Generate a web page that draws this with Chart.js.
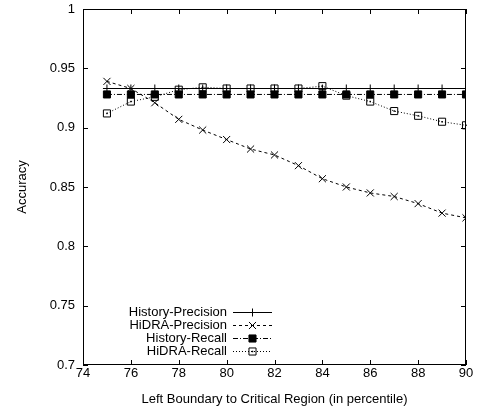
<!DOCTYPE html>
<html>
<head>
<meta charset="utf-8">
<script src="https://cdn.jsdelivr.net/npm/chart.js@4"></script>
<style>
  html, body { margin: 0; padding: 0; background: #fff; }
  #wrap { width: 478px; height: 410px; }
</style>
</head>
<body>
<div id="wrap"><canvas id="accChart" width="478" height="410"></canvas></div>
<script>
// left boundary of the critical region (percentile)
const boundaries = [75, 76, 77, 78, 79, 80, 81, 82, 83, 84, 85, 86, 87, 88, 89, 90];

const historyPrecision = [0.933, 0.933, 0.933, 0.933, 0.933, 0.933, 0.933, 0.933, 0.933, 0.933, 0.933, 0.933, 0.933, 0.933, 0.933, 0.933];
const hidraPrecision   = [0.939, 0.933, 0.921, 0.907, 0.898, 0.890, 0.882, 0.877, 0.868, 0.857, 0.850, 0.845, 0.842, 0.836, 0.828, 0.824];
const historyRecall    = [0.928, 0.928, 0.928, 0.928, 0.928, 0.928, 0.928, 0.928, 0.928, 0.928, 0.928, 0.928, 0.928, 0.928, 0.928, 0.928];
const hidraRecall      = [0.912, 0.922, 0.926, 0.932, 0.934, 0.933, 0.933, 0.933, 0.933, 0.935, 0.927, 0.922, 0.914, 0.910, 0.905, 0.902];

const xTicks = [74, 76, 78, 80, 82, 84, 86, 88, 90];
const yTicks = [0.7, 0.75, 0.8, 0.85, 0.9, 0.95, 1];
const xTickLabels = ['74', '76', '78', '80', '82', '84', '86', '88', '90'];
const yTickLabels = ['0.7', '0.75', '0.8', '0.85', '0.9', '0.95', '1'];

const FONT = { family: "'Liberation Sans', Arial, Helvetica, sans-serif", size: 13 };
const INK = '#000';

function toPoints(values) {
    return boundaries.map((b, i) => ({ x: b, y: values[i] }));
}

const series = [
    { label: 'History-Precision', data: historyPrecision, dash: [],           pointStyle: 'cross',    radius: 4, fill: INK },
    { label: 'HiDRA-Precision',   data: hidraPrecision,   dash: [3, 3],       pointStyle: 'crossRot', radius: 5, fill: INK },
    { label: 'History-Recall',    data: historyRecall,    dash: [5, 2, 1, 2], pointStyle: 'rect',     radius: 5, fill: INK },
    { label: 'HiDRA-Recall',      data: hidraRecall,      dash: [1, 2],       pointStyle: 'rect',     radius: 5, fill: 'rgba(0,0,0,0)', dot: true }
];

// gnuplot-style frame: full box, inward ticks on every side, tick labels outside
const framePlugin = {
    id: 'frame',
    afterDatasetsDraw(chart) {
        const ctx = chart.ctx;
        const { left, top, right, bottom } = chart.chartArea;
        const xs = chart.scales.x, ys = chart.scales.y;
        const tick = 5;
        ctx.save();
        ctx.strokeStyle = INK;
        ctx.lineWidth = 1;
        ctx.setLineDash([]);
        ctx.strokeRect(left + 0.5, top + 0.5, right - left - 1, bottom - top - 1);
        ctx.beginPath();
        xTicks.forEach(v => {
            const px = Math.round(xs.getPixelForValue(v)) + 0.5;
            ctx.moveTo(px, bottom); ctx.lineTo(px, bottom - tick);
            ctx.moveTo(px, top);    ctx.lineTo(px, top + tick);
        });
        yTicks.forEach(v => {
            const py = Math.round(ys.getPixelForValue(v)) + 0.5;
            ctx.moveTo(left, py);  ctx.lineTo(left + tick, py);
            ctx.moveTo(right, py); ctx.lineTo(right - tick, py);
        });
        ctx.stroke();

        ctx.fillStyle = INK;
        ctx.font = `${FONT.size}px ${FONT.family}`;
        ctx.textAlign = 'right';
        ctx.textBaseline = 'middle';
        yTicks.forEach((v, i) => ctx.fillText(yTickLabels[i], left - 8, ys.getPixelForValue(v)));
        ctx.textAlign = 'center';
        ctx.textBaseline = 'top';
        xTicks.forEach((v, i) => ctx.fillText(xTickLabels[i], xs.getPixelForValue(v), bottom + 2));

        // centre dots inside the open squares
        chart.data.datasets.forEach((ds, i) => {
            if (!series[i].dot) return;
            chart.getDatasetMeta(i).data.forEach(p => {
                ctx.fillRect(p.x - 0.75, p.y - 0.75, 1.5, 1.5);
            });
        });
        ctx.restore();
    }
};

// key in the lower-left corner: right-aligned text, sample line to its right
const keyPlugin = {
    id: 'key',
    afterDraw(chart) {
        const ctx = chart.ctx;
        const textRight = 227, lineStart = 233, lineEnd = 272, rowTop = 312, rowGap = 13;
        ctx.save();
        ctx.font = `${FONT.size}px ${FONT.family}`;
        ctx.textAlign = 'right';
        ctx.textBaseline = 'middle';
        series.forEach((s, i) => {
            const y = Math.round(rowTop + i * rowGap) + 0.5;
            ctx.fillStyle = INK;
            ctx.fillText(s.label, textRight, y);
            ctx.strokeStyle = INK;
            ctx.lineWidth = 1;
            ctx.setLineDash(s.dash);
            ctx.beginPath();
            ctx.moveTo(lineStart, y);
            ctx.lineTo(lineEnd, y);
            ctx.stroke();
            ctx.setLineDash([]);
            const mx = (lineStart + lineEnd) / 2;
            ctx.fillStyle = s.fill;
            Chart.helpers.drawPoint(ctx, { pointStyle: s.pointStyle, radius: s.radius, rotation: 0, borderWidth: 1 }, mx, y);
            if (s.dot) {
                ctx.fillStyle = INK;
                ctx.fillRect(mx - 0.75, y - 0.75, 1.5, 1.5);
            }
        });
        ctx.restore();
    }
};

new Chart(document.getElementById('accChart'), {
    type: 'line',
    data: {
        datasets: series.map(s => ({
            label: s.label,
            data: toPoints(s.data),
            borderColor: INK,
            borderWidth: 1,
            borderDash: s.dash,
            pointStyle: s.pointStyle,
            pointRadius: s.radius,
            pointBorderWidth: 1,
            pointBorderColor: INK,
            pointBackgroundColor: s.fill,
            tension: 0,
            fill: false
        }))
    },
    options: {
        responsive: false,
        animation: false,
        devicePixelRatio: 1,
        layout: { padding: { top: 9, right: 12, left: 0, bottom: 0 } },
        plugins: {
            legend: { display: false },
            tooltip: { enabled: false }
        },
        scales: {
            x: {
                type: 'linear',
                min: 74,
                max: 90,
                afterFit: s => { s.height = 45; },
                grid: { display: false, drawTicks: false },
                border: { display: false },
                ticks: { display: false },
                title: {
                    display: true,
                    text: 'Left Boundary to Critical Region (in percentile)',
                    font: FONT,
                    color: INK,
                    padding: { top: 0, bottom: 3 }
                }
            },
            y: {
                min: 0.7,
                max: 1,
                afterFit: s => { s.width = 83; },
                grid: { display: false, drawTicks: false },
                border: { display: false },
                ticks: { display: false },
                title: {
                    display: true,
                    text: 'Accuracy',
                    font: FONT,
                    color: INK,
                    padding: { top: 15, bottom: 0 }
                }
            }
        }
    },
    plugins: [framePlugin, keyPlugin]
});
</script>
</body>
</html>
